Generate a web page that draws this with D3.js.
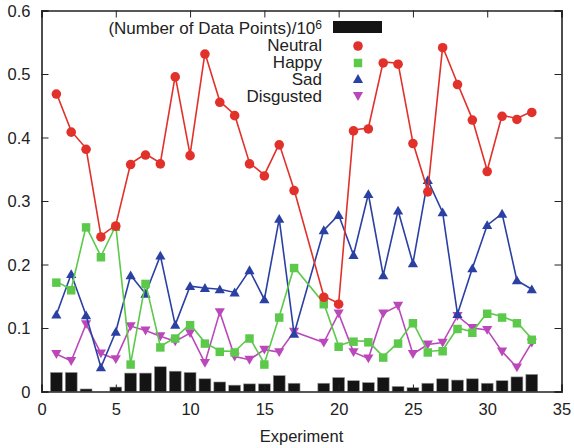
<!DOCTYPE html>
<html><head><meta charset="utf-8">
<script src="https://cdn.jsdelivr.net/npm/d3@7"></script>
<style>body{margin:0;background:#fff}svg{display:block}text{font-family:"Liberation Sans",Arial,sans-serif;fill:#222}</style>
</head><body><svg id="c" width="574" height="448"></svg>
<script>
const experiments = [1,2,3,4,5,6,7,8,9,10,11,12,13,14,15,16,17,19,20,21,22,23,24,25,26,27,28,29,30,31,32,33];
const neutral   = [0.470,0.410,0.383,0.245,0.262,0.359,0.374,0.360,0.497,0.373,0.533,0.457,0.436,0.360,0.341,0.390,0.318,0.150,0.139,0.412,0.415,0.519,0.517,0.392,0.316,0.543,0.485,0.429,0.348,0.435,0.430,0.441];
const happy     = [0.173,0.161,0.260,0.213,0.261,0.044,0.171,0.071,0.085,0.106,0.077,0.064,0.063,0.085,0.044,0.118,0.196,0.139,0.072,0.080,0.079,0.055,0.077,0.109,0.063,0.065,0.100,0.094,0.124,0.118,0.109,0.083];
const sad       = [0.121,0.185,0.120,0.038,0.094,0.183,0.154,0.214,0.105,0.166,0.163,0.161,0.156,0.191,0.145,0.272,0.091,0.254,0.278,0.215,0.311,0.183,0.285,0.202,0.333,0.282,0.122,0.194,0.262,0.280,0.175,0.161];
const disgusted = [0.059,0.048,0.106,0.060,0.051,0.103,0.096,0.087,0.079,0.092,0.045,0.125,0.055,0.050,0.066,0.062,0.094,0.077,0.123,0.062,0.052,0.123,0.135,0.059,0.074,0.077,0.119,0.100,0.097,0.063,0.038,0.077];
const dataPoints = [0.030,0.030,0.004,0.000,0.007,0.029,0.029,0.039,0.032,0.030,0.020,0.015,0.010,0.012,0.012,0.025,0.013,0.013,0.022,0.017,0.014,0.022,0.008,0.006,0.013,0.020,0.018,0.020,0.013,0.017,0.023,0.027];
const xTicks = [0,5,10,15,20,25,30,35];
const yTicks = [0,0.1,0.2,0.3,0.4,0.5,0.6];
const seriesNames = ["Neutral","Happy","Sad","Disgusted"];
const barLabel = "(Number of Data Points)/10";

const svg = d3.select("#c");
const L=41.5, R=561.5, T=10.5, B=391.5;
const x = d3.scaleLinear().domain([0,35]).range([L,R]);
const y = d3.scaleLinear().domain([0,0.6]).range([B,T]);
const fs = 17;

// bars
const bw = x(0.8)-x(0);
svg.append("g").selectAll("rect").data(experiments.map((e,i)=>({e,v:dataPoints[i]})).filter(d=>d.v>0))
  .join("rect").attr("x",d=>x(d.e)-bw/2).attr("width",bw)
  .attr("y",d=>y(d.v)).attr("height",d=>y(0)-y(d.v))
  .attr("fill","#141414").attr("stroke","#999").attr("stroke-width",0.6);

// axes (inward ticks, mirrored)
const tl=7;
const axB = svg.append("g").attr("transform",`translate(0,${B})`).call(d3.axisBottom(x).tickValues(xTicks).tickSize(-tl).tickPadding(12).tickFormat(d3.format("d")));
const axT = svg.append("g").attr("transform",`translate(0,${T})`).call(d3.axisTop(x).tickValues(xTicks).tickSize(-tl).tickFormat(""));
const axL = svg.append("g").attr("transform",`translate(${L},0)`).call(d3.axisLeft(y).tickValues(yTicks).tickSize(-tl).tickPadding(11).tickFormat(d=>d===0?"0":d3.format(".1f")(d)));
const axR = svg.append("g").attr("transform",`translate(${R},0)`).call(d3.axisRight(y).tickValues(yTicks).tickSize(-tl).tickFormat(""));
[axB,axT,axL,axR].forEach(a=>{
  a.selectAll(".domain").attr("stroke","#222").attr("stroke-width",1.6);
  a.selectAll(".tick line").attr("stroke","#222").attr("stroke-width",1);
  a.selectAll("text").attr("font-size",fs-0.5).attr("fill","#222").attr("font-family","Liberation Sans, Arial, sans-serif");
});
axL.selectAll("text").attr("dy","0.35em");

svg.append("text").attr("x",(L+R)/2).attr("y",442).attr("text-anchor","middle").attr("font-size",fs-0.5).text("Experiment");

const series = [
  {name:"Neutral", vals:neutral, color:"#e2302a", sym:d3.symbolCircle, size:72, rot:0},
  {name:"Happy", vals:happy, color:"#5cc94b", sym:d3.symbolSquare, size:72, rot:0},
  {name:"Sad", vals:sad, color:"#2b40a3", sym:d3.symbolTriangle, size:45, rot:0},
  {name:"Disgusted", vals:disgusted, color:"#bb48bb", sym:d3.symbolTriangle, size:45, rot:180}
];
const line = d3.line().x(d=>x(d.e)).y(d=>y(d.v));
const order = [3,2,1,0];
order.forEach(k=>{
  const s=series[k];
  const pts = experiments.map((e,i)=>({e,v:s.vals[i]}));
  const g=svg.append("g");
  g.append("path").datum(pts).attr("d",line).attr("fill","none").attr("stroke",s.color).attr("stroke-width",1.6);
  g.selectAll("path.m").data(pts).join("path").attr("class","m")
   .attr("d",d3.symbol().type(s.sym).size(s.size))
   .attr("transform",d=>`translate(${x(d.e)},${y(d.v)+(s.rot?-1:1)}) rotate(${s.rot})`)
   .attr("fill",s.color);
});

// legend
const lx=322, ly0=28, dy=17;
const lt = svg.append("text").attr("x",lx).attr("y",ly0).attr("dy","0.35em").attr("text-anchor","end").attr("font-size",fs);
lt.append("tspan").text(barLabel);
lt.append("tspan").attr("dy","-0.45em").attr("font-size",12).text("6");
svg.append("rect").attr("x",333).attr("y",21).attr("width",49).attr("height",12).attr("fill","#141414");
series.forEach((s,i)=>{
  const yy = ly0+dy*(i+1);
  svg.append("text").attr("x",lx).attr("y",yy).attr("dy","0.35em").attr("text-anchor","end").attr("font-size",fs).text(s.name);
  svg.append("path").attr("d",d3.symbol().type(s.sym).size(s.size)())
    .attr("transform",`translate(358,${yy+(s.rot?-1:1)}) rotate(${s.rot})`).attr("fill",s.color);
});
</script></body></html>
